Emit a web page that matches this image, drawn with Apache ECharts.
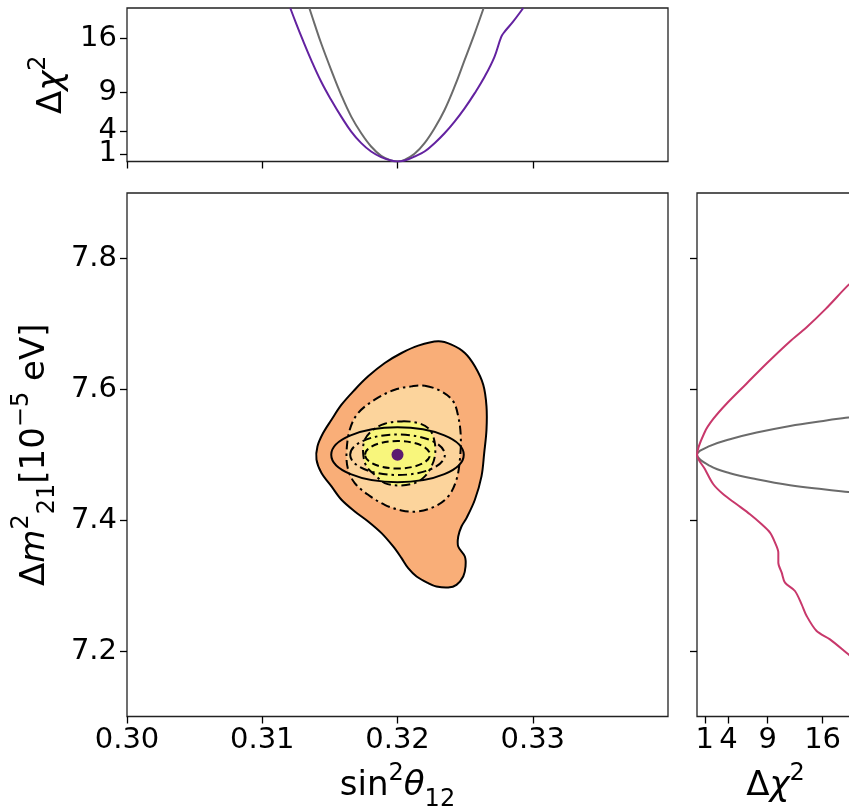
<!DOCTYPE html>
<html><head><meta charset="utf-8">
<script src="https://cdn.jsdelivr.net/npm/echarts@6/dist/echarts.min.js"></script>
<style>html,body{margin:0;padding:0;background:#fff}#c{width:849px;height:808px}</style>
</head><body><div id="c"></div><script>
// ---- top panel: Δχ² vs sin²θ12 ----
const topPurpleX = [0.31207,0.31251,0.31300,0.31362,0.31436,0.31510,0.31584,0.31658,0.31732,0.31805,0.31879,0.31953,0.32000,0.32052,0.32126,0.32200,0.32274,0.32348,0.32422,0.32496,0.32570,0.32644,0.32717,0.32767,0.32791,0.32853,0.32930];
const topPurpleY = [20,17.97,15.81,13.21,10.39,8.01,5.85,3.90,2.39,1.30,0.57,0.13,0,0.13,0.65,1.30,2.39,3.68,5.20,6.93,8.88,11.04,13.64,16.24,16.89,18.19,20];
const topGrayX = [0.31348,0.31386,0.31436,0.31510,0.31584,0.31658,0.31732,0.31805,0.31879,0.31953,0.32000,0.32052,0.32126,0.32200,0.32274,0.32348,0.32422,0.32496,0.32570,0.32637];
const topGrayY = [20,17.97,15.37,11.91,8.66,5.85,3.68,1.95,0.74,0.13,0,0.22,1.0,2.39,4.33,6.71,9.74,13.21,16.67,20];
// ---- right panel: Δm²21 vs Δχ² ----
const rightPinkChi = [20,19.2,16.4,13.9,11.8,8.83,6.3,3.76,2.07,1.01,0,1.02,2.08,3.35,5.05,6.75,8.24,9.30,9.94,10.36,10.36,10.79,11.21,12.48,13.33,13.97,15.24,16.94,19.28,20];
const rightPinkM   = [7.766,7.7584,7.7229,7.6942,7.6728,7.6391,7.6086,7.578,7.5547,7.5352,7.50,7.4778,7.4549,7.4396,7.4243,7.4090,7.3937,7.3810,7.3657,7.3504,7.3351,7.3198,7.3045,7.2918,7.2714,7.2536,7.2306,7.2179,7.1950,7.188];
const rightGrayChi = [20,19.28,16.09,11.85,7.60,4.20,1.66,0,1.66,4.20,7.60,11.85,16.09,19.28,20];
const rightGrayM   = [7.5578,7.5568,7.5517,7.5441,7.5339,7.5237,7.5135,7.50,7.4829,7.4717,7.4625,7.4534,7.4472,7.4432,7.4424];
// ---- main panel contours ----
const outerX = [0.32301,0.32399,0.32498,0.32572,0.32634,0.32658,0.32658,0.32641,0.32621,0.32572,0.32510,0.32473,0.32449,0.32449,0.32498,0.32503,0.32486,0.32436,0.32375,0.32288,0.32227,0.32141,0.32079,0.32030,0.31968,0.31882,0.31783,0.31684,0.31586,0.31512,0.31438,0.31401,0.31408,0.31450,0.31512,0.31586,0.31684,0.31783,0.31906,0.32030,0.32153];
const outerY = [7.6733,7.6682,7.6555,7.6351,7.6070,7.5739,7.5382,7.5025,7.4669,7.4312,7.4032,7.3904,7.3751,7.3598,7.3445,7.3292,7.3140,7.3012,7.2971,7.2987,7.3038,7.3140,7.3267,7.3420,7.3598,7.3802,7.3981,7.4134,7.4312,7.4516,7.4720,7.4924,7.5127,7.5331,7.5535,7.5765,7.5994,7.6198,7.6402,7.6555,7.6667];
const midX = [0.32202,0.32325,0.32412,0.32449,0.32468,0.32461,0.32436,0.32375,0.32276,0.32153,0.32030,0.31906,0.31783,0.31684,0.31635,0.31623,0.31647,0.31709,0.31832,0.31980,0.32104];
const midY = [7.6055,7.5968,7.5816,7.5586,7.5280,7.4924,7.4618,7.4363,7.4210,7.4134,7.4149,7.4235,7.4388,7.4567,7.4771,7.5025,7.5382,7.5637,7.5841,7.5994,7.6045];
const innerX = [0.32030,0.32153,0.32239,0.32276,0.32276,0.32251,0.32202,0.32128,0.32005,0.31906,0.31845,0.31771,0.31746,0.31758,0.31820,0.31906];
const innerY = [7.5510,7.5484,7.5382,7.5178,7.4975,7.4822,7.4669,7.4567,7.4531,7.4567,7.4669,7.4822,7.5025,7.5229,7.5382,7.5474];
// Gaussian ellipses: centre and semi-axes (data units)
const bestFit = [0.32, 7.50];
const ellipseRx = [0.0049, 0.0035, 0.0024];
const ellipseRy = [0.042, 0.031, 0.021];
const ellipseDash = ['solid', 'dashdot', 'dashed'];
// ticks
const xTicks = [0.30, 0.31, 0.32, 0.33];
const yTicks = [7.2, 7.4, 7.6, 7.8];
const chiTicks = [1, 4, 9, 16];
const chiTicksA = [1, 9, 16];   // drawn on the main top-panel axis
const chiTicksB = [4];          // drawn on an overlay axis (avoids auto-hiding of close labels)

const FONT = 'DejaVu Sans';
const dashMap = {solid: null, dashdot: [9, 4, 2.5, 4], dashed: [7, 4]};

const rich = {
  n: {fontSize: 34, lineHeight: 50, fontFamily: FONT, color: '#000'},
  i: {fontSize: 34, lineHeight: 50, fontFamily: FONT, fontStyle: 'italic', color: '#000'},
  sup: {fontSize: 24, lineHeight: 23, fontFamily: FONT, color: '#000', verticalAlign: 'top'},
  sub: {fontSize: 24, lineHeight: 30, fontFamily: FONT, color: '#000', verticalAlign: 'bottom'}
};
const tickLabel = {fontSize: 29, fontFamily: FONT, color: '#000', hideOverlap: false};
const tickStyle = {length: 7, lineStyle: {color: '#000', width: 1.3}};

function zip(a, b) { return a.map((v, i) => [v, b[i]]); }

function polySeries(xs, ys, fill, dash, z) {
  return {
    type: 'custom', xAxisIndex: 1, yAxisIndex: 1, z: z, silent: true, clip: true,
    data: [[xs[0], ys[0]]],
    renderItem: function (params, api) {
      const pts = xs.map((x, i) => api.coord([x, ys[i]]));
      return {type: 'polygon', shape: {points: pts, smooth: 0.35},
        style: {fill: fill, stroke: '#000', lineWidth: 2, lineDash: dashMap[dash]}};
    }
  };
}

const series = [
  {type: 'line', xAxisIndex: 0, yAxisIndex: 0, data: zip(topGrayX, topGrayY), smooth: 0.4, showSymbol: false, lineStyle: {color: '#6b6b6b', width: 2}, z: 3},
  {type: 'line', xAxisIndex: 0, yAxisIndex: 0, data: zip(topPurpleX, topPurpleY), smooth: 0.4, showSymbol: false, lineStyle: {color: '#6322a0', width: 2}, z: 4},
  {type: 'line', xAxisIndex: 2, yAxisIndex: 2, data: zip(rightGrayChi, rightGrayM), smooth: 0.4, showSymbol: false, lineStyle: {color: '#6b6b6b', width: 2}, z: 3},
  {type: 'line', xAxisIndex: 2, yAxisIndex: 2, data: zip(rightPinkChi, rightPinkM), smooth: 0.3, showSymbol: false, lineStyle: {color: '#c8386b', width: 2}, z: 4},
  polySeries(outerX, outerY, '#f9ae78', 'solid', 2),
  polySeries(midX, midY, '#fcd49c', 'dashdot', 3),
  polySeries(innerX, innerY, '#f8f67c', 'dashdot', 4),
  {
    type: 'custom', xAxisIndex: 1, yAxisIndex: 1, z: 6, silent: true,
    data: ellipseRx.map((rx, k) => [bestFit[0], bestFit[1], rx, ellipseRy[k], k]),
    renderItem: function (params, api) {
      const c = api.coord([api.value(0), api.value(1)]);
      const s = api.size([api.value(2), api.value(3)]);
      return {type: 'ellipse', shape: {cx: c[0], cy: c[1], rx: s[0], ry: s[1]},
        style: {fill: 'none', stroke: '#000', lineWidth: 2, lineDash: dashMap[ellipseDash[api.value(4)]]}};
    }
  },
  {type: 'scatter', xAxisIndex: 1, yAxisIndex: 1, data: [bestFit], symbolSize: 12, itemStyle: {color: '#5b1b70', opacity: 1}, z: 8}
];

const gridBase = {show: true, borderColor: '#222', borderWidth: 1.3, backgroundColor: 'transparent', containLabel: false, outerBoundsMode: 'none'};

const option = {
  animation: false,
  backgroundColor: '#fff',
  grid: [
    Object.assign({left: 127, top: 8, width: 541, height: 153.5}, gridBase),
    Object.assign({left: 127, top: 193, width: 541, height: 523.5}, gridBase),
    Object.assign({left: 697, top: 193, width: 157, height: 523.5}, gridBase)
  ],
  xAxis: [
    {gridIndex: 0, type: 'value', min: 0.30, max: 0.34, axisLine: {show: false}, splitLine: {show: false},
      axisTick: Object.assign({customValues: xTicks}, tickStyle), axisLabel: {show: false, customValues: xTicks}},
    {gridIndex: 1, type: 'value', min: 0.30, max: 0.34, axisLine: {show: false}, splitLine: {show: false},
      axisTick: Object.assign({customValues: xTicks}, tickStyle),
      axisLabel: Object.assign({customValues: xTicks, margin: 9, formatter: v => v.toFixed(2)}, tickLabel),
      name: '{n|sin}{sup|2}{i|θ}{sub|12}', nameLocation: 'middle', nameGap: 45, nameTextStyle: {rich: rich}},
    {gridIndex: 2, type: 'value', min: 0, max: 20, axisLine: {show: false}, splitLine: {show: false},
      axisTick: Object.assign({customValues: chiTicks}, tickStyle),
      axisLabel: Object.assign({customValues: chiTicks, margin: 9, formatter: v => String(v)}, tickLabel),
      name: '{n|Δ}{i|χ}{sup|2}', nameLocation: 'middle', nameGap: 45, nameTextStyle: {rich: rich}}
  ],
  yAxis: [
    {gridIndex: 0, type: 'value', position: 'left', min: 0, max: 20, axisLine: {show: false}, splitLine: {show: false},
      axisTick: Object.assign({customValues: chiTicksA}, tickStyle),
      axisLabel: Object.assign({customValues: chiTicksA, margin: 10, formatter: v => String(v)}, tickLabel),
      name: '{n|Δ}{i|χ}{sup|2}', nameLocation: 'middle', nameRotate: 90, nameGap: 50, nameTextStyle: {rich: rich}},
    {gridIndex: 1, type: 'value', min: 7.1, max: 7.9, axisLine: {show: false}, splitLine: {show: false},
      axisTick: Object.assign({customValues: yTicks}, tickStyle),
      axisLabel: Object.assign({customValues: yTicks, margin: 10, formatter: v => v.toFixed(1)}, tickLabel),
      name: '{n|Δ}{i|m}{sup|2}{sub|21}{n|[10}{sup|−5}{n| eV]}', nameLocation: 'middle', nameRotate: 90, nameGap: 64, nameTextStyle: {rich: rich}},
    {gridIndex: 2, type: 'value', min: 7.1, max: 7.9, axisLine: {show: false}, splitLine: {show: false},
      axisTick: Object.assign({customValues: yTicks}, tickStyle), axisLabel: {show: false, customValues: yTicks}},
    {gridIndex: 0, type: 'value', position: 'left', offset: 0, min: 0, max: 20, axisLine: {show: false}, splitLine: {show: false},
      axisTick: Object.assign({customValues: chiTicksB}, tickStyle),
      axisLabel: Object.assign({customValues: chiTicksB, margin: 10, formatter: v => String(v)}, tickLabel)}
  ],
  series: series
};

const chart = echarts.init(document.getElementById('c'), null, {renderer: 'canvas'});
chart.setOption(option);
</script></body></html>
